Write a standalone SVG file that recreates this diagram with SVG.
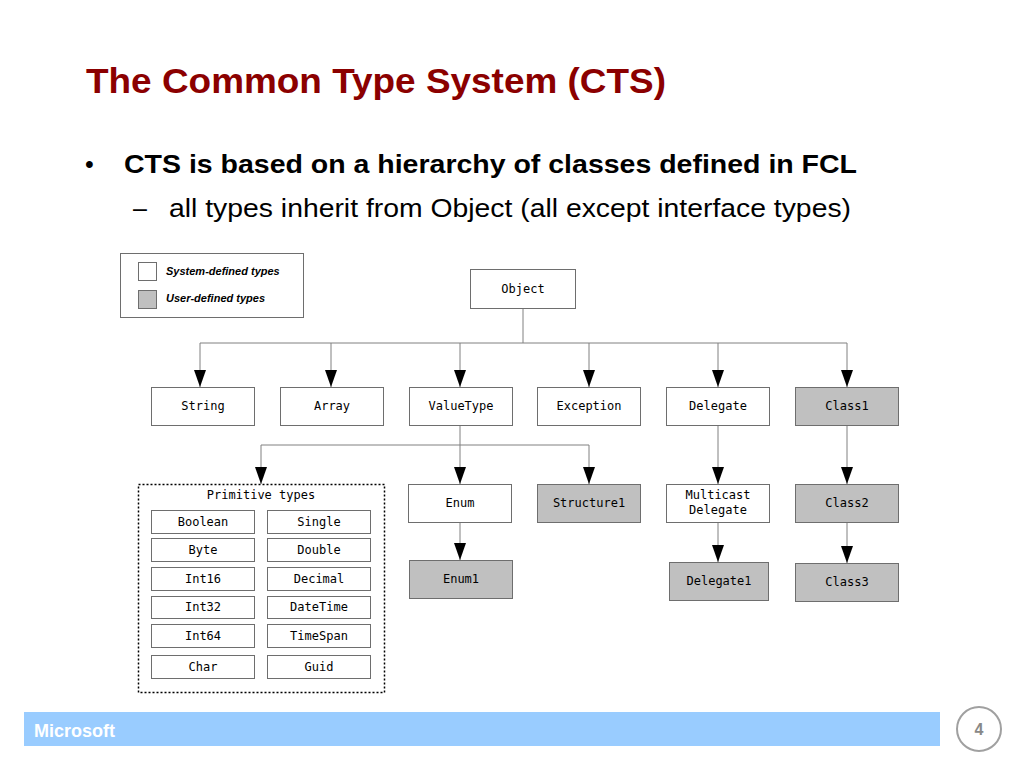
<svg xmlns="http://www.w3.org/2000/svg" width="1024" height="768" viewBox="0 0 1024 768">
<defs>
<marker id="arr" markerWidth="18" markerHeight="12" refX="17" refY="6" orient="auto" markerUnits="userSpaceOnUse" viewBox="0 0 18 12">
<path d="M0,0 L17,6 L0,12 Z" fill="#000"/>
</marker>
<style>
.box{fill:#fff;stroke:#6e6e6e;stroke-width:1}
.ubox{fill:#c0c0c0;stroke:#6e6e6e;stroke-width:1}
.lbl{font-family:"DejaVu Sans Mono","Liberation Mono",monospace;font-size:12px;fill:#000;text-anchor:middle}
.con{fill:none;stroke:#808080;stroke-width:1}
.arr{fill:none;stroke:#808080;stroke-width:1;marker-end:url(#arr)}
.leg{font-family:"Liberation Sans",Arial,sans-serif;font-size:11px;font-weight:bold;font-style:italic;fill:#000}
</style>
</defs>
<rect width="1024" height="768" fill="#fff"/>
<text x="86" y="93" font-family="Liberation Sans, Arial, sans-serif" font-size="35" font-weight="bold" fill="#8b0000" textLength="580" lengthAdjust="spacingAndGlyphs">The Common Type System (CTS)</text>
<text x="85" y="173" font-family="Liberation Sans, Arial, sans-serif" font-size="25" fill="#000">•</text>
<text x="124" y="173" font-family="Liberation Sans, Arial, sans-serif" font-size="25" font-weight="bold" fill="#000" textLength="733" lengthAdjust="spacingAndGlyphs">CTS is based on a hierarchy of classes defined in FCL</text>
<text x="133" y="217" font-family="Liberation Sans, Arial, sans-serif" font-size="25" fill="#000">–</text>
<text x="169" y="217" font-family="Liberation Sans, Arial, sans-serif" font-size="26" fill="#000" textLength="682" lengthAdjust="spacingAndGlyphs">all types inherit from Object (all except interface types)</text>

<g id="legend">
<rect x="120.5" y="253.5" width="183" height="64" fill="#fff" stroke="#6e6e6e"/>
<rect x="138.5" y="262.5" width="18" height="18" class="box"/>
<rect x="138.5" y="290.5" width="18" height="18" class="ubox"/>
<text x="166" y="275" class="leg">System-defined types</text>
<text x="166" y="302" class="leg">User-defined types</text>
</g>

<g id="connectors">
<path class="con" d="M523,308 V343 M200,343 H847"/>
<path class="arr" d="M200,343 V387"/>
<path class="arr" d="M331,343 V387"/>
<path class="arr" d="M460,343 V387"/>
<path class="arr" d="M589,343 V387"/>
<path class="arr" d="M718,343 V387"/>
<path class="arr" d="M847,343 V387"/>
<path class="con" d="M460,425 V445 M261,445 H589"/>
<path class="arr" d="M261,445 V484"/>
<path class="arr" d="M460,445 V484"/>
<path class="arr" d="M589,445 V484"/>
<path class="arr" d="M718,425 V484"/>
<path class="arr" d="M847,425 V484"/>
<path class="arr" d="M460,522 V560"/>
<path class="arr" d="M718,522 V562"/>
<path class="arr" d="M847,522 V563"/>
</g>

<g id="object"><rect class="box" x="470.5" y="269.5" width="105" height="39"/><text class="lbl" x="523" y="293">Object</text></g>
<g id="string"><rect class="box" x="151.5" y="387.5" width="103" height="38"/><text class="lbl" x="203" y="410">String</text></g>
<g id="array"><rect class="box" x="280.5" y="387.5" width="103" height="38"/><text class="lbl" x="332" y="410">Array</text></g>
<g id="valuetype"><rect class="box" x="409.5" y="387.5" width="103" height="38"/><text class="lbl" x="461" y="410">ValueType</text></g>
<g id="exception"><rect class="box" x="537.5" y="387.5" width="103" height="38"/><text class="lbl" x="589" y="410">Exception</text></g>
<g id="delegate"><rect class="box" x="666.5" y="387.5" width="103" height="38"/><text class="lbl" x="718" y="410">Delegate</text></g>
<g id="class1"><rect class="ubox" x="795.5" y="387.5" width="103" height="38"/><text class="lbl" x="847" y="410">Class1</text></g>

<g id="primitive-types">
<rect x="138.5" y="484.5" width="246" height="208" fill="#fff" stroke="#000" stroke-width="1.5" stroke-dasharray="2,2"/>
<text class="lbl" x="261" y="499">Primitive types</text>
</g>
<g id="boolean"><rect class="box" x="151.5" y="510.5" width="103" height="23"/><text class="lbl" x="203" y="526">Boolean</text></g>
<g id="byte"><rect class="box" x="151.5" y="538.5" width="103" height="23"/><text class="lbl" x="203" y="554">Byte</text></g>
<g id="int16"><rect class="box" x="151.5" y="567.5" width="103" height="23"/><text class="lbl" x="203" y="583">Int16</text></g>
<g id="int32"><rect class="box" x="151.5" y="596.5" width="103" height="22"/><text class="lbl" x="203" y="611">Int32</text></g>
<g id="int64"><rect class="box" x="151.5" y="624.5" width="103" height="23"/><text class="lbl" x="203" y="640">Int64</text></g>
<g id="char"><rect class="box" x="151.5" y="655.5" width="103" height="23"/><text class="lbl" x="203" y="671">Char</text></g>
<g id="single"><rect class="box" x="267.5" y="510.5" width="103" height="23"/><text class="lbl" x="319" y="526">Single</text></g>
<g id="double"><rect class="box" x="267.5" y="538.5" width="103" height="23"/><text class="lbl" x="319" y="554">Double</text></g>
<g id="decimal"><rect class="box" x="267.5" y="567.5" width="103" height="23"/><text class="lbl" x="319" y="583">Decimal</text></g>
<g id="datetime"><rect class="box" x="267.5" y="596.5" width="103" height="22"/><text class="lbl" x="319" y="611">DateTime</text></g>
<g id="timespan"><rect class="box" x="267.5" y="624.5" width="103" height="23"/><text class="lbl" x="319" y="640">TimeSpan</text></g>
<g id="guid"><rect class="box" x="267.5" y="655.5" width="103" height="23"/><text class="lbl" x="319" y="671">Guid</text></g>

<g id="enum"><rect class="box" x="408.5" y="484.5" width="103" height="38"/><text class="lbl" x="460" y="507">Enum</text></g>
<g id="enum1"><rect class="ubox" x="409.5" y="560.5" width="103" height="38"/><text class="lbl" x="461" y="583">Enum1</text></g>
<g id="structure1"><rect class="ubox" x="537.5" y="484.5" width="103" height="38"/><text class="lbl" x="589" y="507">Structure1</text></g>
<g id="multicast-delegate"><rect class="box" x="666.5" y="484.5" width="103" height="38"/><text class="lbl" x="718" y="499">Multicast</text><text class="lbl" x="718" y="514">Delegate</text></g>
<g id="delegate1"><rect class="ubox" x="669.5" y="562.5" width="99" height="38"/><text class="lbl" x="719" y="585">Delegate1</text></g>
<g id="class2"><rect class="ubox" x="795.5" y="484.5" width="103" height="38"/><text class="lbl" x="847" y="507">Class2</text></g>
<g id="class3"><rect class="ubox" x="795.5" y="563.5" width="103" height="38"/><text class="lbl" x="847" y="586">Class3</text></g>

<g id="footer">
<rect x="24" y="712" width="916" height="34" fill="#99ccff"/>
<text x="34" y="737" font-family="Liberation Sans, Arial, sans-serif" font-size="18" font-weight="bold" fill="#fff">Microsoft</text>
<circle cx="979" cy="729" r="22" fill="#fff" stroke="#a0a0a0" stroke-width="2"/>
<text x="979" y="735" font-family="Liberation Sans, Arial, sans-serif" font-size="16" font-weight="bold" fill="#888" text-anchor="middle">4</text>
</g>
</svg>
